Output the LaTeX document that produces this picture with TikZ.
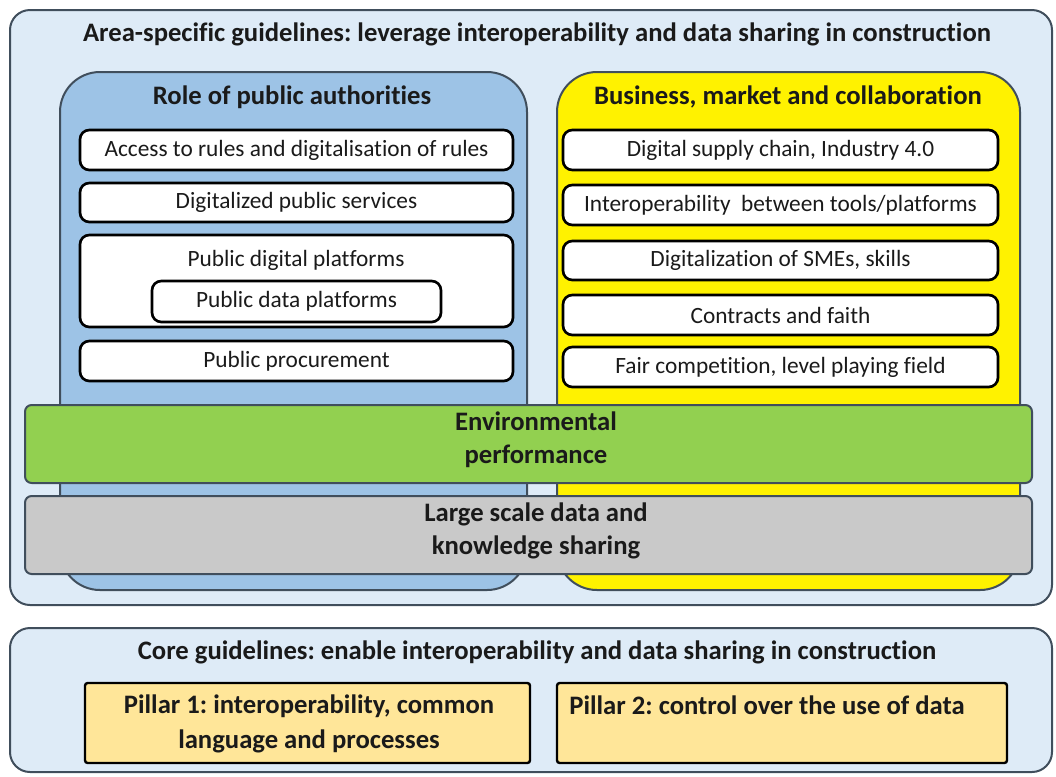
\documentclass[tikz,border=0pt]{standalone}
\usepackage{fontspec}
\setmainfont{Carlito}[Ligatures=NoCommon]
\usetikzlibrary{fit}
\definecolor{framegray}{HTML}{404E5C}
\definecolor{areablue}{HTML}{DEEBF7}
\definecolor{roleblue}{HTML}{9DC3E6}
\definecolor{envgreen}{HTML}{92D050}
\definecolor{sharegray}{HTML}{C9C9C9}
\definecolor{pillarorange}{HTML}{FFE699}
\definecolor{inktext}{HTML}{1A1A1A}
\frenchspacing
\tikzset{%
  panel/.style = {draw=framegray, line width=1.5pt, fill=areablue,
    rounded corners=15pt, inner sep=0pt},
  column/.style = {draw=framegray, line width=1.5pt,
    rounded corners=30pt, inner sep=0pt},
  band/.style = {draw=framegray, line width=1.5pt, rounded corners=5pt,
    inner sep=0pt},
  itembox/.style = {draw=black, line width=2pt, fill=white,
    rounded corners=7pt, inner sep=0pt},
  pillar/.style = {draw=black, line width=1.8pt, fill=pillarorange,
    rounded corners=2pt, inner sep=0pt},
  itemtext/.style = {text=inktext, inner sep=0pt,
    font=\fontsize{17.5}{21}\selectfont},
  heading/.style = {text=inktext, inner sep=0pt, align=center,
    font=\fontsize{20}{25}\selectfont\bfseries}
}

\begin{document}
\begin{tikzpicture}[x=0.75pt, y=-0.75pt]
\useasboundingbox (0,0) rectangle (1056,776);
% area-specific guidelines
\node[panel, fit={(10,10) (1052,605)}] (area) {};
\node[heading] (areatitle) at (537,34)
  {Area-specific guidelines: leverage interoperability and data sharing in construction};
\node[column, fill=roleblue, fit={(60,72) (527,590)}] (role) {};
\node[column, fill=yellow, fit={(557,72) (1020,590)}] (business) {};
\node[heading] (roletitle) at (292,97) {Role of public authorities};
\node[heading] (businesstitle) at (788,97) {Business, market and collaboration};
% role of public authorities
\node[itembox, fit={(80,130) (513,170)}] (rules) {};
\node[itemtext] (rulestext) at (rules) {Access to rules and digitalisation of rules};
\node[itembox, fit={(80,183) (513,222)}] (services) {};
\node[itemtext] (servicestext) at (services) {Digitalized public services};
\node[itembox, fit={(80,235) (513,327)}] (platforms) {};
\node[itemtext] (platformstext) at (296,260) {Public digital platforms};
\node[itembox, fit={(152,281) (441,322)}] (dataplatforms) {};
\node[itemtext] (dataplatformstext) at (dataplatforms) {Public data platforms};
\node[itembox, fit={(80,341) (513,381)}] (procurement) {};
\node[itemtext] (procurementtext) at (procurement) {Public procurement};
% business, market and collaboration
\node[itembox, fit={(563,130) (998,170)}] (supply) {};
\node[itemtext] (supplytext) at (supply) {Digital supply chain, Industry 4.0};
\node[itembox, fit={(563,185) (998,225)}] (tools) {};
\node[itemtext] (toolstext) at (tools) {Interoperability\ \ between tools/platforms};
\node[itembox, fit={(563,241) (998,280)}] (smes) {};
\node[itemtext] (smestext) at (smes) {Digitalization of SMEs, skills};
\node[itembox, fit={(563,295) (998,335)}] (contracts) {};
\node[itemtext] (contractstext) at (contracts) {Contracts and faith};
\node[itembox, fit={(563,347) (998,387)}] (competition) {};
\node[itemtext] (competitiontext) at (competition) {Fair competition, level playing field};
% cross-cutting bands
\node[band, fill=envgreen, fit={(25,405) (1032,483)}] (environment) {};
\node[heading] (environmenttext) at (536,440) {Environmental\\performance};
\node[band, fill=sharegray, fit={(25,496) (1032,574)}] (sharing) {};
\node[heading] (sharingtext) at (536,531) {Large scale data and\\knowledge sharing};
% core guidelines
\node[panel, fit={(10,628) (1052,772)}] (core) {};
\node[heading] (coretitle) at (537,652)
  {Core guidelines: enable interoperability and data sharing in construction};
\node[pillar, fit={(85,683) (530,763)}] (pillarone) {};
\node[heading, font=\fontsize{20}{26}\selectfont\bfseries] (pillaronetext) at (309,724)
  {Pillar 1: interoperability, common\\language and processes};
\node[pillar, fit={(557,683) (1007,763)}] (pillartwo) {};
\node[heading, anchor=north] (pillartwotext) at (767,696)
  {Pillar 2: control over the use of data};
\end{tikzpicture}
\end{document}
